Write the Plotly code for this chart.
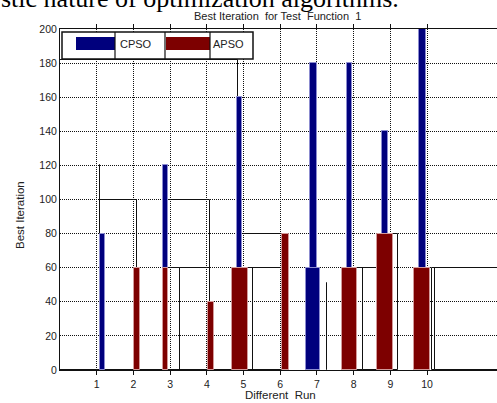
import plotly.graph_objects as go

# ---- data -------------------------------------------------------------
runs = [1, 2, 3, 4, 5, 6, 7, 8, 9, 10]
cpso = [80, None, 120, None, 160, None, 180, 180, 140, 200]
apso = [None, 60, 60, 40, 60, 80, 60, 60, 80, 60]
y_ticks = [0, 20, 40, 60, 80, 100, 120, 140, 160, 180, 200]

# unfilled outline boxes drawn behind the bars: left edge, right edge, top
frame_left = [0.0, 1.09, 1.09, 2.943, 2.943, 3.270, 4.959, 5.095, 5.259,
              7.275, 8.093, 8.256, 9.074, 10.136, 10.218]
frame_right = [4.85, 1.098, 2.090, 4.087, 3.270, 4.087, 6.131, 5.259, 6.049,
               7.283, 8.256, 8.638, 9.210, 10.218, 12.5]
frame_top = [182, 120, 100, 100, 60, 60, 80, 60, 60, 51, 60, 60, 80, 60, 60]

# ---- bar placement / style (centre shift from the run tick, bar width) --
cpso_shift = [0.158, 0, -0.125, 0, -0.109, 0, -0.093, -0.112, -0.144, -0.123]
cpso_width = [0.11, 0.1, 0.136, 0.1, 0.163, 0.1, 0.19, 0.163, 0.163, 0.19]
apso_shift = [0, 0.098, -0.125, 0.114, -0.095, 0.144, -0.106, -0.112, -0.144, -0.123]
apso_width = [0.1, 0.163, 0.136, 0.163, 0.41, 0.19, 0.38, 0.41, 0.436, 0.436]

BLUE = "#00007d"
RED = "#7d0000"
apso_colors = [RED] * 10
apso_colors[6] = BLUE
apso_edges = ["#d39a9a"] * 10
apso_edges[6] = "#8c8cd0"

# plot-area geometry in pixels
W, H = 497, 403
L, R, T, B = 60, 0, 29, 33
PW, PH = W - L - R, H - T - B


def px(x):
    return (x - L) / PW


def py(y):
    return (H - B - y) / PH


fig = go.Figure()

fig.add_trace(go.Bar(
    x=[(a + b) / 2 for a, b in zip(frame_left, frame_right)],
    y=frame_top,
    width=[b - a for a, b in zip(frame_left, frame_right)],
    marker=dict(color="rgba(0,0,0,0)", line=dict(color="#111", width=1)),
    showlegend=False, hoverinfo="skip",
))

fig.add_trace(go.Bar(
    name="CPSO", x=runs, y=cpso,
    width=cpso_width,
    offset=[s - w / 2 for s, w in zip(cpso_shift, cpso_width)],
    marker=dict(color=BLUE, line=dict(color="#8c8cd0", width=1)),
    showlegend=False,
))

fig.add_trace(go.Bar(
    name="APSO", x=runs, y=apso,
    width=apso_width,
    offset=[s - w / 2 for s, w in zip(apso_shift, apso_width)],
    marker=dict(color=apso_colors, line=dict(color=apso_edges, width=1)),
    showlegend=False,
))

tick_font = dict(family="Liberation Sans, Arial", size=10.5, color="#222")

fig.update_layout(
    width=W, height=H, autosize=False,
    margin=dict(l=L, r=R, t=T, b=B, pad=0),
    paper_bgcolor="white", plot_bgcolor="white",
    barmode="overlay", bargap=0,
    xaxis=dict(
        range=[0, (W - R - L) / 36.7], tickvals=runs, ticktext=[str(r) for r in runs],
        showgrid=True, gridcolor="#111", gridwidth=1, griddash="1px,1px",
        showline=True, linecolor="#111", linewidth=1, mirror="ticks",
        ticks="outside", ticklen=4, tickcolor="#111",
        zeroline=False, tickfont=tick_font,
    ),
    yaxis=dict(
        range=[0, 200], tickvals=y_ticks,
        showgrid=True, gridcolor="#111", gridwidth=1, griddash="1px,1px",
        showline=True, linecolor="#111", linewidth=1, mirror=False,
        ticks="", zeroline=False, tickfont=tick_font,
    ),
)

# hand-built legend box
shapes = [
    dict(type="rect", x0=px(62), x1=px(253), y0=py(59), y1=py(32),
         fillcolor="white", line=dict(color="#111", width=1.5)),
    dict(type="rect", x0=px(76), x1=px(115), y0=py(50), y1=py(37),
         fillcolor=BLUE, line=dict(width=0)),
    dict(type="rect", x0=px(166), x1=px(210), y0=py(50), y1=py(37),
         fillcolor=RED, line=dict(width=0)),
]
for xd in (115, 165, 210):
    shapes.append(dict(type="line", x0=px(xd), x1=px(xd), y0=py(59), y1=py(32),
                       line=dict(color="#111", width=1.2)))
for s in shapes:
    s.update(xref="paper", yref="paper", layer="above")
fig.update_layout(shapes=shapes)

label_font = dict(family="Liberation Sans, Arial", size=11.5, color="#222")
annotations = [
    dict(text="CPSO", x=px(118), y=py(44), xanchor="left", yanchor="middle",
         font=dict(family="Liberation Sans, Arial", size=11, color="#222")),
    dict(text="APSO", x=px(211), y=py(44), xanchor="left", yanchor="middle",
         font=dict(family="Liberation Sans, Arial", size=11, color="#222")),
    dict(text="Best Iteration\u00a0 for Test\u00a0 Function\u00a0 1",
         x=px(277), y=py(16), xanchor="center", yanchor="middle",
         font=dict(family="Liberation Sans, Arial", size=11, color="#222")),
    dict(text="Different\u00a0 Run", x=px(280), y=py(395), xanchor="center",
         yanchor="middle", font=label_font),
    dict(text="Best Iteration", x=px(20), y=py(215), xanchor="center",
         yanchor="middle", textangle=-90, font=label_font),
    dict(text="stic nature of optimization algorithms.", x=px(-1), y=py(15),
         xanchor="left", yanchor="bottom",
         font=dict(family="Liberation Serif, Times New Roman", size=26, color="black")),
]
for a in annotations:
    a.update(xref="paper", yref="paper", showarrow=False)
fig.update_layout(annotations=annotations)

fig.write_html("out.html")
